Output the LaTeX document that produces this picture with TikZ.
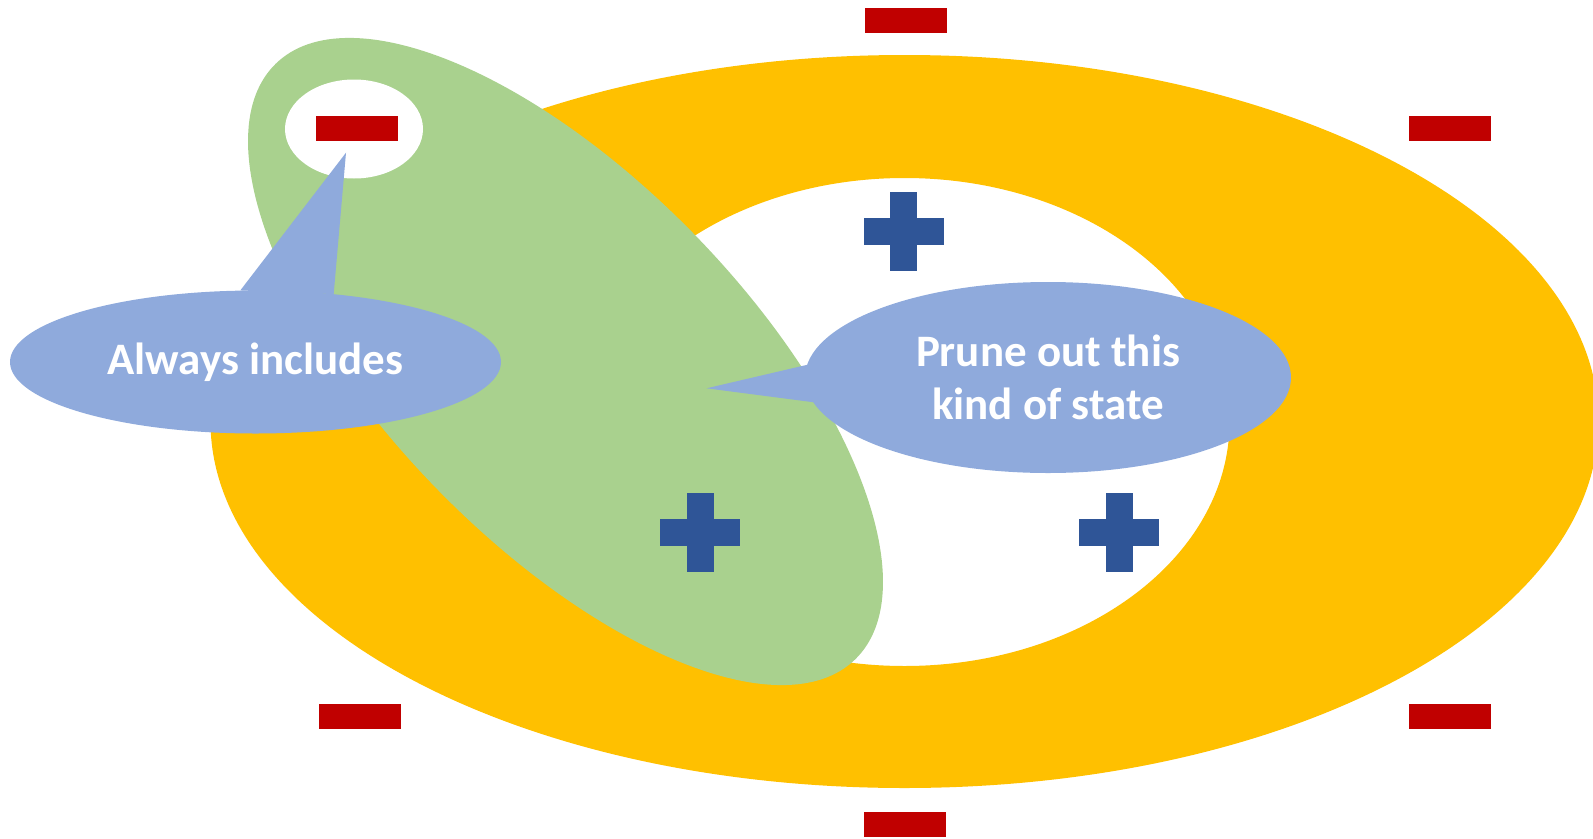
\documentclass[tikz,border=0pt]{standalone}
\usepackage{fontspec}
\setmainfont{Carlito}
\usetikzlibrary{shapes.geometric}

\definecolor{ringyellow}{HTML}{FFC000}
\definecolor{leafgreen}{HTML}{A9D18E}
\definecolor{calloutblue}{HTML}{8FAADC}
\definecolor{minusred}{HTML}{C00000}
\definecolor{plusblue}{HTML}{2F5597}

\begin{document}
\begin{tikzpicture}[x=1pt, y=-1pt,
  minussign/.style={rectangle, fill=minusred, minimum width=82pt, minimum height=25.5pt, inner sep=0pt},
  blob/.style={ellipse, inner sep=0pt},
  callout/.style={ellipse, fill=calloutblue, inner sep=0pt, text=white,
    font=\fontsize{45}{53}\selectfont\bfseries, align=center},
  plussign/.pic={
    \fill[plusblue] (-40,-13.5) rectangle (40,13.5);
    \fill[plusblue] (-13.5,-39.5) rectangle (13.5,39.5);
  }]
\useasboundingbox (0,0) rectangle (1593,838);
\clip (0,0) rectangle (1593,838);

% yellow ring (outer ellipse with an elliptic hole)
\fill[ringyellow, even odd rule]
  (904.5,421.5) ellipse [x radius=694pt, y radius=366.5pt]
  (904.5,422) ellipse [x radius=325pt, y radius=244pt];

% tilted green region and the hole inside it
\node[blob, fill=leafgreen, minimum width=831pt, minimum height=362pt, rotate=-45.8]
  (green) at (565.5,361.5) {};
\node[blob, fill=white, minimum width=138pt, minimum height=99pt] (hole) at (354,129) {};

% negative examples
\node[minussign] (m1) at (905.5,20.3) {};
\node[minussign] (m2) at (1450,128.5) {};
\node[minussign] (m3) at (357,128.7) {};
\node[minussign] (m4) at (360,716.5) {};
\node[minussign] (m5) at (1450,716.5) {};
\node[minussign] (m6) at (905.3,824.5) {};

% positive examples
\pic at (903.5,231.3) {plussign};
\pic at (700,532.7) {plussign};
\pic at (1119,532.5) {plussign};

% callouts
\node[callout, minimum width=491pt, minimum height=143pt] (always) at (255.5,362)
  {\raisebox{-2pt}{Always includes}};
\coordinate (alwaysTip) at (346,152.7);
\fill[calloutblue] (always.102.9) -- (alwaysTip) -- (always.41.3) -- cycle;

\node[callout, minimum width=486pt, minimum height=191pt] (prune) at (1048,377.5) {Prune out this\\kind of state};
\coordinate (pruneTip) at (706.6,388.3);
\fill[calloutblue] (prune.177.5) -- (pruneTip) -- (prune.186.7) -- cycle;
\end{tikzpicture}
\end{document}
